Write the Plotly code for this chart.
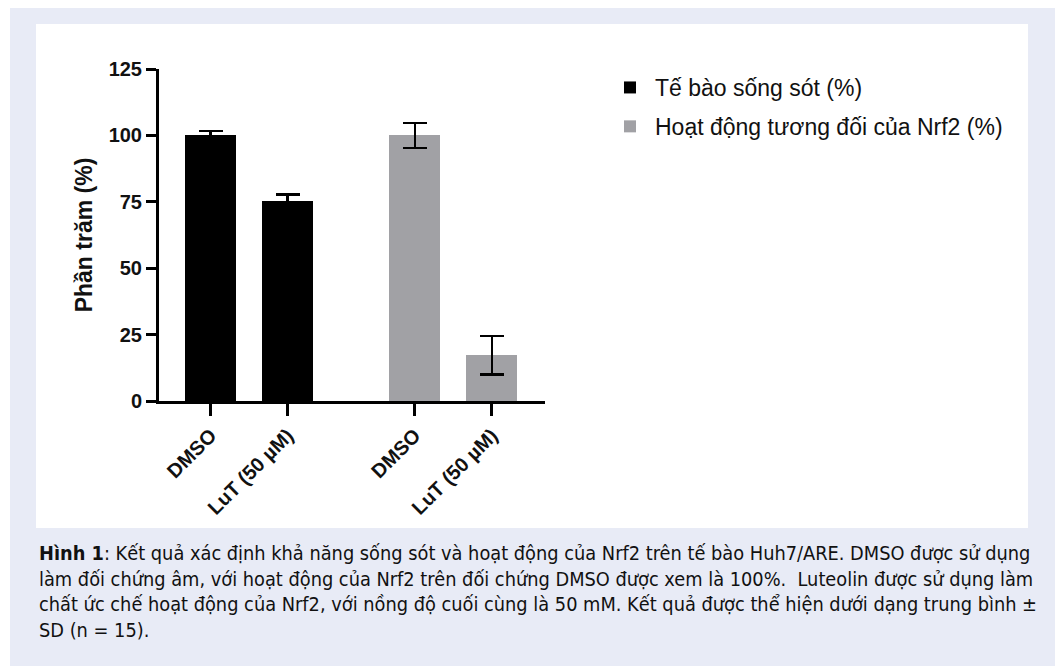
import plotly.graph_objects as go

# ---- data ----
categories = ["DMSO", "LuT (50 µM)"]
series_names = ["Tế bào sống sót (%)", "Hoạt động tương đối của Nrf2 (%)"]
survival_values = [100, 75.2]
survival_sd = [1.7, 2.5]
nrf2_values = [100, 17.2]
nrf2_sd = [4.7, 7.3]
y_ticks = [0, 25, 50, 75, 100, 125]

caption = ("<b>Hình 1</b>: Kết quả xác định khả năng sống sót và hoạt động của Nrf2 trên tế bào Huh7/ARE. DMSO được sử dụng<br>"
           "làm đối chứng âm, với hoạt động của Nrf2 trên đối chứng DMSO được xem là 100%.  Luteolin được sử dụng làm<br>"
           "chất ức chế hoạt động của Nrf2, với nồng độ cuối cùng là 50 mM. Kết quả được thể hiện dưới dạng trung bình ±<br>"
           "SD (n = 15).")

# ---- layout geometry (pixels) ----
W, H = 1058, 666
PL, PR, PT, PB = 159, 545, 69, 401
GROUP_GAP = 2.65


def px_x(p):
    return (p - PL) / (PR - PL)


def px_y(p):
    return (PB - p) / (PB - PT)


colors = ["#000000", "#a1a1a5"]
fig = go.Figure()
all_ticks, all_text = [], []
for g, (name, vals, sds) in enumerate(zip(series_names,
                                           [survival_values, nrf2_values],
                                           [survival_sd, nrf2_sd])):
    xs = [g * GROUP_GAP + i for i in range(len(categories))]
    all_ticks += xs
    all_text += categories
    fig.add_trace(go.Bar(
        x=xs, y=vals, name=name, width=0.66, legendgroup=f"g{g}",
        marker=dict(color=colors[g], line=dict(width=0)),
        error_y=dict(type="data", array=sds, visible=True, color="#000000",
                     thickness=2.5, width=12),
    ))

FONT = "Liberation Sans, Arial, sans-serif"
fig.update_layout(
    width=W, height=H,
    margin=dict(l=PL, r=W - PR, t=PT, b=H - PB, pad=0),
    paper_bgcolor="#ffffff",
    plot_bgcolor="rgba(0,0,0,0)",
    bargap=0,
    xaxis=dict(
        range=[-0.67, 4.34], tickmode="array", tickvals=all_ticks, ticktext=all_text,
        tickangle=-45, ticks="outside", ticklen=12, tickwidth=3, tickcolor="#000",
        showline=True, linewidth=3, linecolor="#000", showgrid=False, zeroline=False,
        tickfont=dict(family=FONT, size=20, color="#111", weight="bold"),
    ),
    yaxis=dict(
        range=[0, 125], tickmode="array", tickvals=y_ticks,
        ticks="outside", ticklen=10, tickwidth=3, tickcolor="#000",
        showline=True, linewidth=3, linecolor="#000", showgrid=False, zeroline=False,
        tickfont=dict(family=FONT, size=20, color="#111", weight="bold"),
        title=dict(text="Phần trăm (%)", standoff=10,
                   font=dict(family=FONT, size=23, color="#111", weight="bold")),
    ),
    legend=dict(
        x=px_x(605), y=px_y(66), xanchor="left", yanchor="top",
        font=dict(family=FONT, size=23, color="#111"),
        bgcolor="rgba(0,0,0,0)", itemwidth=40, tracegroupgap=6,
    ),
    showlegend=True,
)

# background panels
fig.add_shape(type="rect", xref="paper", yref="paper", layer="below",
              x0=px_x(10), x1=px_x(1055), y0=px_y(666), y1=px_y(8),
              fillcolor="#e8ebf6", line=dict(width=0))
fig.add_shape(type="rect", xref="paper", yref="paper", layer="below",
              x0=px_x(36), x1=px_x(1028), y0=px_y(528), y1=px_y(24),
              fillcolor="#ffffff", line=dict(width=0))

fig.add_annotation(
    text=caption, xref="paper", yref="paper", x=px_x(37), y=px_y(540),
    xanchor="left", yanchor="top", align="left", showarrow=False,
    font=dict(family="Liberation Sans Narrow, DejaVu Sans Condensed, Arial Narrow, sans-serif",
              size=19.8, color="#111"),
)

fig.write_html("out.html", config={"displayModeBar": False},
               post_script="document.body.style.margin='0';")
